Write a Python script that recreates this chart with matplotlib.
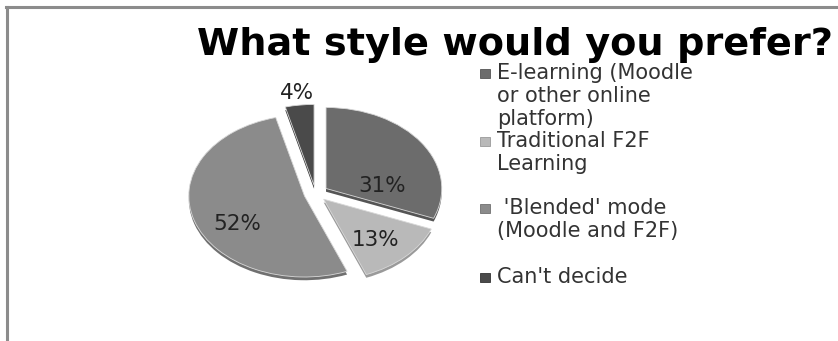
import matplotlib
matplotlib.use("Agg")
import matplotlib.pyplot as plt
from matplotlib.patches import Rectangle
from matplotlib.lines import Line2D

categories = [
    "E-learning (Moodle\nor other online\nplatform)",
    "Traditional F2F\nLearning",
    " 'Blended' mode\n(Moodle and F2F)",
    "Can't decide",
]
shares = [31, 13, 52, 4]
colors = ["#6c6c6c", "#b9b9b9", "#8b8b8b", "#4a4a4a"]
edge_colors = ["#555555", "#9a9a9a", "#707070", "#333333"]
title = "What style would you prefer?"

W, H = 838, 341
fig = plt.figure(figsize=(W / 100, H / 100), dpi=100)
fig.patch.set_facecolor("white")

# chart frame (top and left edges visible)
fig.add_artist(Line2D([6 / W, 1], [1 - 6.5 / H, 1 - 6.5 / H], color="#8c8c8c", lw=2.2))
fig.add_artist(Line2D([6.5 / W, 6.5 / W], [0, 1 - 6.5 / H], color="#8c8c8c", lw=2.2))

# pie axes: elliptical pie (tilted look) via non-equal aspect
rx, ry = 115.7, 81.0
cx, cy = 315.5, 193.5
ax = fig.add_axes([(cx - 1.5 * rx) / W, (H - cy - 1.5 * ry) / H, 3 * rx / W, 3 * ry / H])
explode = [0.11, 0.1, 0.1, 0.1]

# depth layer under the slices
depth, _ = ax.pie(shares, startangle=90, counterclock=False, explode=explode,
                  colors=edge_colors, center=(0, -0.04), radius=1.0)
for w in depth:
    w.set_edgecolor("none")

wedges, texts = ax.pie(shares, startangle=90, counterclock=False, explode=explode,
                       colors=colors, wedgeprops=dict(edgecolor="#d8d8d8", linewidth=0.6))
ax.set_aspect("auto")
ax.set_xlim(-1.5, 1.5)
ax.set_ylim(-1.5, 1.5)
ax.axis("off")

# percentage labels
label_pos = [(0.58, 0.09), (0.52, -0.58), (-0.68, -0.38), (-0.16, 1.24)]
for (x, y), v in zip(label_pos, shares):
    ax.text(x, y, f"{v}%", ha="center", va="center", fontsize=15.5,
            family="DejaVu Sans", color="#222222")

# title
fig.text(515 / W, 1 - 45 / H, title, ha="center", va="center", fontsize=27.5,
         fontweight="bold", family="DejaVu Sans", color="black")

# legend
legend_y = [73, 141, 208, 277]
for lab, c, ec, y in zip(categories, colors, edge_colors, legend_y):
    fig.add_artist(Rectangle((480 / W, 1 - (y + 5) / H), 10 / W, 9 / H,
                             facecolor=c, edgecolor=ec, lw=0.6))
    fig.text(497 / W, 1 - (y - 10) / H, lab, ha="left", va="top", fontsize=15,
             family="DejaVu Sans", color="#333333", linespacing=1.2)

fig.savefig("out.png", dpi=100)
